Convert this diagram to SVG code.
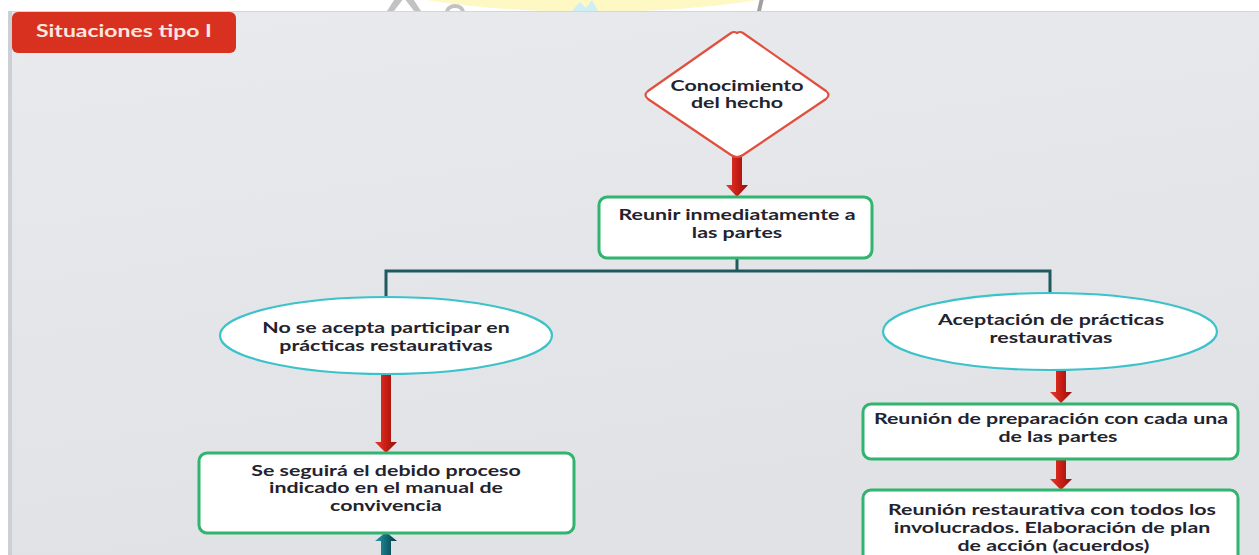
<svg xmlns="http://www.w3.org/2000/svg" width="1259" height="555" viewBox="0 0 1259 555">
<defs>
<style>
.t{font-family:Lato,"Liberation Sans",sans-serif;font-size:15.5px;font-weight:700;fill:#23232e;text-anchor:middle}
.box{fill:#ffffff;stroke:#30b46e;stroke-width:3}
.ell{fill:#ffffff;stroke:#3cc2c9;stroke-width:2.2}
.con{fill:none;stroke:#1f5a60;stroke-width:3}
.ra{fill:url(#rg)}
.ta{fill:url(#tg)}
</style>
<linearGradient id="rg" x1="0" y1="0" x2="1" y2="0">
<stop offset="0" stop-color="#e63a2b"/>
<stop offset="0.5" stop-color="#c81e15"/>
<stop offset="1" stop-color="#8e0f0a"/>
</linearGradient>
<linearGradient id="tg" x1="0" y1="0" x2="1" y2="0">
<stop offset="0" stop-color="#2a9aa8"/>
<stop offset="0.5" stop-color="#136b78"/>
<stop offset="1" stop-color="#0a3640"/>
</linearGradient>
<linearGradient id="bg" x1="0" y1="0" x2="0.3" y2="1">
<stop offset="0" stop-color="#e9eaed"/>
<stop offset="1" stop-color="#e0e2e6"/>
</linearGradient>
<clipPath id="topclip"><rect x="0" y="0" width="1259" height="11"/></clipPath>
</defs>

<rect x="0" y="0" width="1259" height="555" fill="#ffffff"/>
<g id="watermark" clip-path="url(#topclip)">
<ellipse cx="592" cy="-60" rx="300" ry="72" fill="#fdf8c4"/>
<path d="M387 11 L398 -6 L410 -6 L421 11 L414 11 L404 -2 L394 11 Z" fill="#a8a8a8" opacity="0.7"/>
<ellipse cx="455" cy="12" rx="8" ry="6" fill="none" stroke="#a8a8a8" stroke-width="4" opacity="0.7"/>
<path d="M572 11 L580 2 L586 8 L592 0 L598 11 Z" fill="#cfeef5"/>
<path d="M757 11 L760 -2 L764 -2 L761 11 Z" fill="#a0a0a0"/>
</g>
<rect x="8" y="11" width="1251" height="544" fill="url(#bg)"/>
<line x1="8" y1="11.5" x2="1259" y2="11.5" stroke="#d2d5da" stroke-width="1"/>
<rect x="8" y="11" width="4" height="544" fill="#ccd0d6"/>

<g id="header">
<rect x="12" y="12" width="224" height="41" rx="6" fill="#d9311f"/>
<text transform="translate(36 0) scale(1.35 1)" x="0" y="37.5" style="font-family:Lato,'Liberation Sans',sans-serif;font-size:17px;font-weight:700;fill:#fde6e1">Situaciones tipo I</text>
</g>

<g id="connectors">
<path class="con" d="M737 258 V271 M386 297 V271 H1050 V293"/>
<path class="ra" d="M732 157 H742 V185 H748 L737 197 L726 185 H732 Z"/>
<path class="ra" d="M381 374 H391 V442 H397 L386 453 L375 442 H381 Z"/>
<path class="ra" d="M1056 371 H1066 V392 H1072 L1061 403 L1050 392 H1056 Z"/>
<path class="ra" d="M1056 459 H1066 V479 H1072 L1061 490 L1050 479 H1056 Z"/>
<path class="ta" d="M381 555 V541 H375 L386 532 L397 541 H391 V555 Z"/>
</g>

<g id="n-conocimiento">
<path d="M737 33 Q740 31 743 33 L826 91 Q831 95 826 99 L743 155 Q737 159 731 155 L648 99 Q643 95 648 91 L731 33 Q734 31 737 33 Z" fill="#ffffff" stroke="#e0503e" stroke-width="2.2"/>
<g transform="translate(737 0) scale(1.38 1)">
<text class="t" x="0" y="91">Conocimiento</text>
<text class="t" x="0" y="108.5">del hecho</text>
</g>
</g>

<g id="n-reunir">
<rect class="box" x="599" y="197" width="273" height="61" rx="8"/>
<g transform="translate(737 0) scale(1.38 1)">
<text class="t" x="0" y="220">Reunir inmediatamente a</text>
<text class="t" x="0" y="238">las partes</text>
</g>
</g>

<g id="n-noacepta">
<ellipse class="ell" cx="386" cy="335.5" rx="166" ry="38.5"/>
<g transform="translate(386 0) scale(1.38 1)">
<text class="t" x="0" y="333">No se acepta participar en</text>
<text class="t" x="0" y="351.5">prácticas restaurativas</text>
</g>
</g>

<g id="n-aceptacion">
<ellipse class="ell" cx="1050" cy="331.5" rx="167" ry="38.5"/>
<g transform="translate(1051 0) scale(1.38 1)">
<text class="t" x="0" y="325">Aceptación de prácticas</text>
<text class="t" x="0" y="343">restaurativas</text>
</g>
</g>

<g id="n-debido">
<rect class="box" x="199" y="453" width="375" height="80" rx="8"/>
<g transform="translate(386 0) scale(1.38 1)">
<text class="t" x="0" y="476">Se seguirá el debido proceso</text>
<text class="t" x="0" y="493.5">indicado en el manual de</text>
<text class="t" x="0" y="511">convivencia</text>
</g>
</g>

<g id="n-preparacion">
<rect class="box" x="863" y="404" width="375" height="55" rx="8"/>
<g transform="translate(1051 0) scale(1.38 1)">
<text class="t" x="0" y="424">Reunión de preparación con cada una</text>
<text class="t" x="5" y="442.5">de las partes</text>
</g>
</g>

<g id="n-restaurativa">
<rect class="box" x="863" y="490" width="375" height="80" rx="8"/>
<g transform="translate(1052 0) scale(1.38 1)">
<text class="t" x="0" y="515">Reunión restaurativa con todos los</text>
<text class="t" x="0" y="533">involucrados. Elaboración de plan</text>
<text class="t" x="1" y="551.5">de acción (acuerdos)</text>
</g>
</g>
</svg>
